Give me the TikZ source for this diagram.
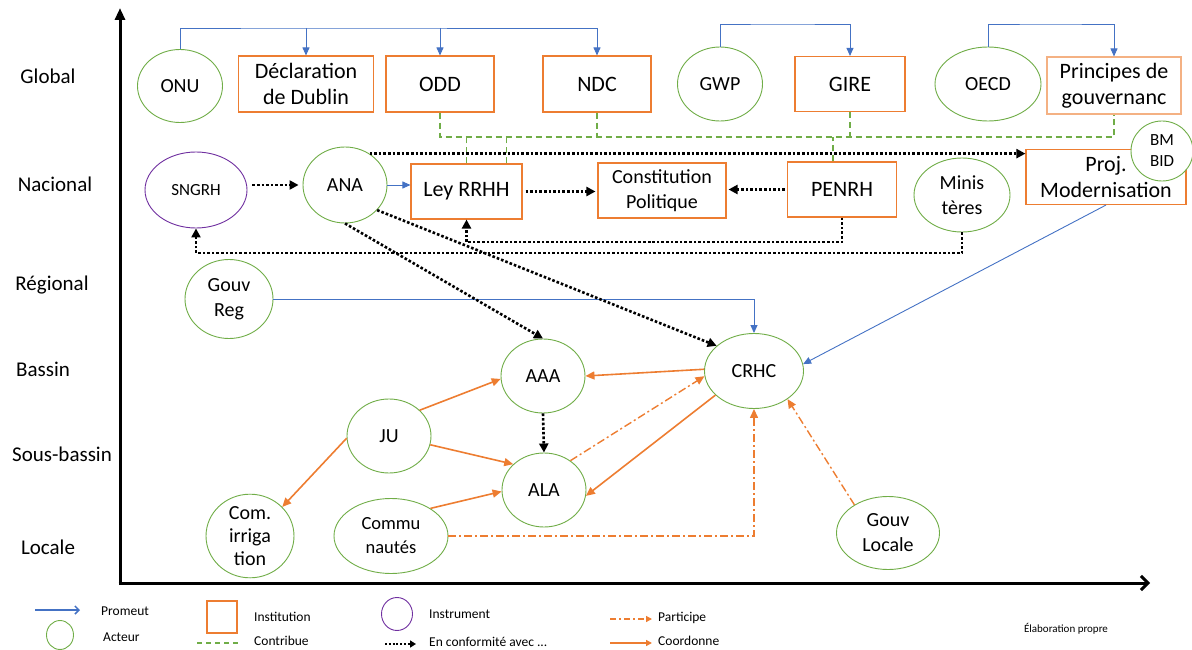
\documentclass[tikz,border=0pt]{standalone}
\usepackage{fontspec}
\setmainfont{Carlito}
\usetikzlibrary{arrows.meta,shapes.geometric}
\definecolor{cor}{HTML}{ED7D31}
\definecolor{cgr}{HTML}{70AD47}
\definecolor{cbl}{HTML}{4472C4}
\definecolor{cpu}{HTML}{7030A0}
\definecolor{cpe}{HTML}{F4B183}
\begin{document}
\begin{tikzpicture}[x=1pt,y=-1pt,
 inst/.style={draw=cor, line width=1.1pt, fill=white, align=center, inner sep=0pt, font=\fontsize{22}{26}\selectfont},
 act/.style={ellipse, draw=cgr, line width=0.9pt, fill=white, align=center, inner sep=0pt, font=\fontsize{20}{25}\selectfont},
 lvl/.style={font=\fontsize{21}{25}\selectfont},
 prom/.style={draw=cbl, line width=0.9pt, -{Triangle[length=8pt,width=7pt]}},
 contrib/.style={draw=cgr, line width=1.6pt, dash pattern=on 6pt off 4pt},
 conf/.style={draw=black, line width=2.6pt, dash pattern=on 2.6pt off 2pt, -{Triangle[length=9pt,width=9pt]}},
 coordo/.style={draw=cor, line width=1.6pt, -{Triangle[length=9pt,width=8pt]}},
 part/.style={draw=cor, line width=1.4pt, dash pattern=on 8pt off 3pt on 2pt off 3pt, -{Triangle[length=9pt,width=8pt]}},
 leg/.style={anchor=west, inner sep=1pt, font=\fontsize{13.5}{16}\selectfont},
]
\useasboundingbox (0,0) rectangle (1192,650);

% axes
\coordinate (Ytop) at (120,8);
\coordinate (Xend) at (1150,583);
\draw[line width=3pt, -{Triangle[length=12pt,width=10pt]}] (120,585) -- (Ytop);
\draw[line width=3pt, -{Straight Barb[length=7pt,width=14pt]}] (118.5,583) -- (Xend);

% level labels
\node[lvl] (lg) at (48,76) {Global};
\node[lvl] (ln) at (55,184) {Nacional};
\node[lvl] (lr) at (52,285) {Régional};
\node[lvl] (lb) at (43,369) {Bassin};
\node[lvl] (ls) at (62,454) {Sous-bassin};
\node[lvl] (ll) at (48,547) {Locale};

% Global
\node[act, minimum width=85pt, minimum height=73pt] (ONU) at (180,86) {ONU};
\node[inst, minimum width=135pt, minimum height=56pt] (DUB) at (306,84) {Déclaration\\de Dublin};
\node[inst, minimum width=108pt, minimum height=56pt] (ODD) at (440,84) {ODD};
\node[inst, minimum width=108pt, minimum height=56pt] (NDC) at (597,84) {NDC};
\node[act, minimum width=85pt, minimum height=74pt] (GWP) at (720,84) {GWP};
\node[inst, minimum width=110pt, minimum height=55pt] (GIRE) at (850,84) {GIRE};
\node[act, minimum width=106pt, minimum height=74pt] (OECD) at (988,84) {OECD};
\node[inst, draw=cpe, minimum width=134pt, minimum height=57pt] (PRI) at (1114,85.5) {Principes de\\gouvernanc};

% Nacional
\node[act, draw=cpu, minimum width=102pt, minimum height=76pt, font=\fontsize{17}{20}\selectfont] (SNG) at (196,190) {SNGRH};
\node[act, minimum width=84pt, minimum height=76pt] (ANA) at (345,185) {ANA};
\node[inst, minimum width=111pt, minimum height=55pt] (LEY) at (466.5,191.5) {Ley RRHH};
\node[inst, minimum width=128pt, minimum height=55pt, font=\fontsize{20}{25}\selectfont] (CON) at (662,190.5) {Constitution\\Politique};
\node[inst, minimum width=109pt, minimum height=55pt] (PEN) at (842,189.5) {PENRH};
\node[act, minimum width=96pt, minimum height=74pt] (MIN) at (962,195) {Minis\\tères};
\node[inst, minimum width=160pt, minimum height=55pt] (PRO) at (1106,177) {Proj.\\Modernisation};
\node[act, minimum width=62pt, minimum height=60pt, font=\fontsize{17}{21}\selectfont] (BM) at (1162,151) {BM\\BID};

% lower levels
\node[act, minimum width=88pt, minimum height=79pt] (GRE) at (229,299) {Gouv\\Reg};
\node[act, minimum width=84pt, minimum height=74pt] (AAA) at (543,376) {AAA};
\node[act, minimum width=99pt, minimum height=75pt] (CRHC) at (754,371) {CRHC};
\node[act, minimum width=84pt, minimum height=74pt] (JU) at (389,436) {JU};
\node[act, minimum width=84pt, minimum height=74pt] (ALA) at (544,490) {ALA};
\node[act, minimum width=88pt, minimum height=75pt, font=\fontsize{20}{23}\selectfont] (COM) at (250,536) {Com.\\irriga\\tion};
\node[act, minimum width=114pt, minimum height=75pt, font=\fontsize{18.5}{24}\selectfont] (CMU) at (391,536) {Commu\\nautés};
\node[act, minimum width=103pt, minimum height=73pt] (GLO) at (888,533) {Gouv\\Locale};

% Promeut (blue)
\coordinate (busA) at (300,28);
\draw[prom] (ONU.north) |- (busA) -| (NDC.north);
\draw[prom] (DUB.north |- busA) -- (DUB.north);
\draw[prom] (ODD.north |- busA) -- (ODD.north);
\coordinate (busB) at (780,24);
\draw[prom] (GWP.north) |- (busB) -| (GIRE.north);
\coordinate (busC) at (1050,24);
\draw[prom] (OECD.north) |- (busC) -| (PRI.north);
\draw[prom] (ANA.east) -- (ANA.east -| LEY.west);
\draw[prom] (GRE.east) -| (CRHC.north);
\draw[prom] (PRO.south) -- (CRHC.8);

% Contribue (green dashed)
\coordinate (gbus) at (700,137);
\draw[contrib] (ODD.south) |- (gbus) -| (PRI.south);
\draw[contrib] (NDC.south) -- (NDC.south |- gbus);
\draw[contrib] (GIRE.south) -- (GIRE.south |- gbus);
\draw[contrib] (LEY.north) -- (LEY.north |- gbus);
\draw[contrib] ([xshift=40pt]LEY.north) -- ([xshift=40pt]LEY.north |- gbus);
\draw[contrib] ([xshift=-9pt]PEN.north) -- ([xshift=-9pt]PEN.north |- gbus);

% En conformite (black dotted)
\draw[conf, shorten <=5pt, shorten >=4pt] (SNG.east |- ANA.east) -- (ANA.west);
\draw[conf, shorten <=3pt, shorten >=2pt] (LEY.east) -- (LEY.east -| CON.west);
\draw[conf, shorten <=2pt, shorten >=2pt] (PEN.west) -- (PEN.west -| CON.east);
\draw[conf] (ANA.52) -- (ANA.52 -| PRO.west);
\coordinate (d1) at (650,242);
\draw[conf] (PEN.south) |- (d1) -| (LEY.south);
\coordinate (d2) at (600,253);
\draw[conf] (MIN.south) |- (d2) -| (SNG.south);
\draw[conf] (ANA.south) -- (AAA.north);
\draw[conf] (ANA.-38) -- (CRHC.146);
\draw[conf] (AAA.south) -- (ALA.north);

% Coordonne (orange solid)
\draw[coordo] (CRHC.178) -- (AAA.east);
\draw[coordo] (CRHC.212) -- (ALA.-8);
\draw[coordo] (JU.40) -- (AAA.184);
\draw[coordo] (JU.-12) -- (ALA.140);
\draw[coordo] (JU.183) -- (COM.42);
\draw[coordo] (CMU.35) -- (ALA.182);

% Participe (orange dash-dot)
\draw[part] (ALA.48) -- (CRHC.186);
\draw[part] (CMU.east) -| (CRHC.south);
\draw[part] (GLO.140) -- (CRHC.-40);

% legend
\coordinate (p1) at (35,610); \coordinate (p2) at (80,610);
\draw[draw=cbl, line width=1.5pt, -{Straight Barb[length=4pt,width=8pt]}] (p1) -- (p2);
\node[leg] (tprom) at (100,611) {Promeut};
\node[ellipse, draw=cgr, line width=0.9pt, minimum width=27pt, minimum height=29pt, inner sep=0pt] (lact) at (60,635) {};
\node[leg] (tact) at (102,637) {Acteur};
\node[draw=cor, line width=1.1pt, minimum width=30pt, minimum height=32pt, inner sep=0pt] (linst) at (222,617) {};
\node[leg] (tinst) at (253,617) {Institution};
\coordinate (c1) at (197,643); \coordinate (c2) at (238,643);
\draw[contrib, line width=1.4pt, dash pattern=on 5pt off 4pt] (c1) -- (c2);
\node[leg] (tcon) at (253,641) {Contribue};
\node[ellipse, draw=cpu, line width=0.9pt, minimum width=31pt, minimum height=33pt, inner sep=0pt] (linstr) at (397,614) {};
\node[leg] (tinstr) at (428,614) {Instrument};
\coordinate (e1) at (385,644); \coordinate (e2) at (416,644);
\draw[draw=black, line width=2.4pt, dash pattern=on 2pt off 1.8pt, -{Triangle[length=6pt,width=7pt]}] (e1) -- (e2);
\node[leg] (tconf) at (428,642) {En conformité avec ...};
\coordinate (a1) at (610,619); \coordinate (a2) at (652,619);
\draw[draw=cor, line width=1.3pt, dash pattern=on 6pt off 3pt on 2pt off 3pt, -{Triangle[length=6pt,width=6pt]}] (a1) -- (a2);
\node[leg] (tpart) at (657,618) {Participe};
\coordinate (b1) at (610,643); \coordinate (b2) at (652,643);
\draw[draw=cor, line width=1.5pt, -{Triangle[length=6pt,width=6pt]}] (b1) -- (b2);
\node[leg] (tcoo) at (657,641) {Coordonne};
\node[font=\fontsize{11}{13}\selectfont] (elab) at (1066,629) {Élaboration propre};
\end{tikzpicture}
\end{document}
